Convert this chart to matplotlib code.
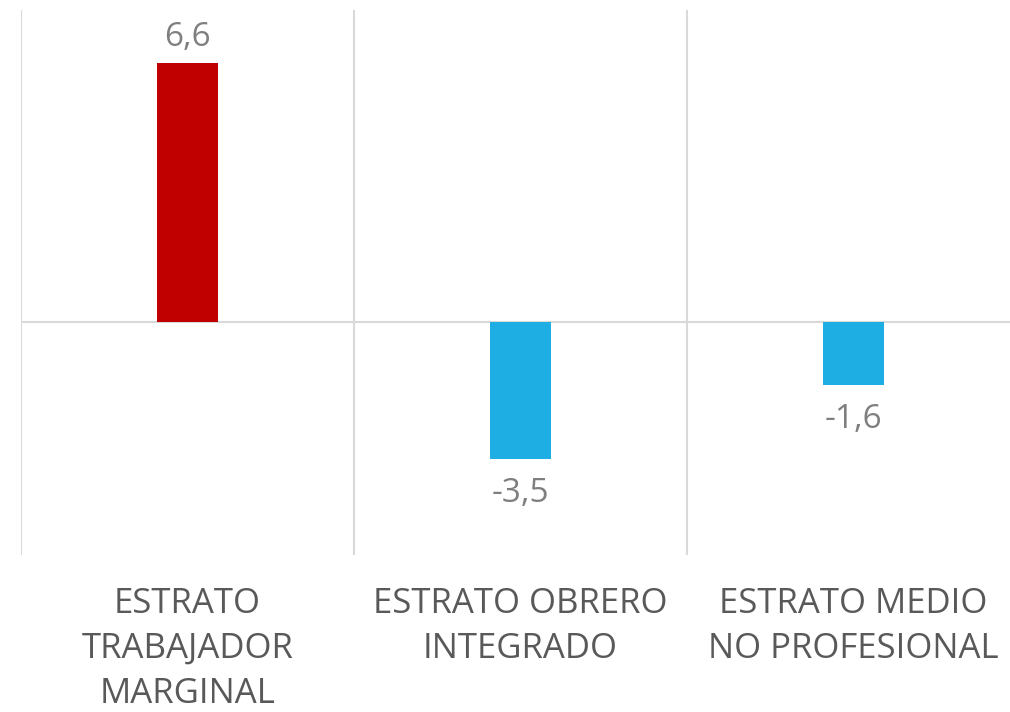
import matplotlib
matplotlib.use("Agg")
import matplotlib.pyplot as plt

categories = ["ESTRATO\nTRABAJADOR\nMARGINAL", "ESTRATO OBRERO\nINTEGRADO", "ESTRATO MEDIO\nNO PROFESIONAL"]
values = [6.6, -3.5, -1.6]
value_labels = ["6,6", "-3,5", "-1,6"]
colors = ["#C00000", "#1EAEE3", "#1EAEE3"]

plt.rcParams['font.family'] = ['Open Sans', 'DejaVu Sans']

fig = plt.figure(figsize=(10.10, 7.12), dpi=100)
W, H = 1010, 712
ax = fig.add_axes([21 / W, 1 - 555 / H, (1010 - 21) / W, (555 - 10) / H])
ax.set_xlim(-0.5, -0.5 + 989 / 333)
ax.set_ylim(-5.94, 7.96)

x = list(range(len(categories)))
ax.bar(x, values, width=0.185, color=colors, zorder=3)

for b in [-0.5, 0.5, 1.5]:
    ax.axvline(b, color="#D9D9D9", lw=1.5, zorder=1)
ax.axhline(0, color="#D9D9D9", lw=1.5, zorder=2)

for xi, v, lab in zip(x, values, value_labels):
    if v >= 0:
        ax.annotate(lab, (xi, v), xytext=(0, 7), textcoords="offset points",
                    ha="center", va="bottom", fontsize=24, color="#7F7F7F")
    else:
        ax.annotate(lab, (xi, v), xytext=(0, -13), textcoords="offset points",
                    ha="center", va="top", fontsize=24, color="#7F7F7F")

ax.set_xticks(x)
ax.set_xticklabels(categories, fontsize=25, color="#595959", linespacing=1.42)
ax.tick_params(axis="x", length=0, pad=23)
ax.set_yticks([])
for s in ax.spines.values():
    s.set_visible(False)

fig.savefig("out.png", dpi=100)
